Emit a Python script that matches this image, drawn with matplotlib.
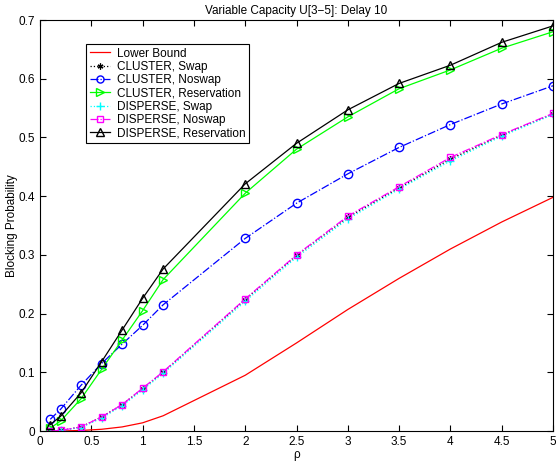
import matplotlib
matplotlib.use("Agg")
import matplotlib.pyplot as plt

plt.rcParams['font.family'] = ['Liberation Sans', 'DejaVu Sans']
plt.rcParams['font.size'] = 8

rho = [0.1, 0.2, 0.4, 0.6, 0.8, 1.0, 1.2, 2.0, 2.5, 3.0, 3.5, 4.0, 4.5, 5.0]

lower_bound = [0.0, 0.0, 0.001, 0.003, 0.007, 0.014, 0.026, 0.095, 0.150, 0.207, 0.260, 0.310, 0.356, 0.398]
cluster_swap = [0.0, 0.001, 0.007, 0.024, 0.045, 0.072, 0.100, 0.224, 0.299, 0.364, 0.414, 0.463, 0.504, 0.540]
cluster_noswap = [0.020, 0.037, 0.078, 0.115, 0.148, 0.180, 0.215, 0.328, 0.388, 0.438, 0.483, 0.522, 0.557, 0.588]
cluster_resv = [0.005, 0.017, 0.055, 0.105, 0.155, 0.205, 0.258, 0.405, 0.480, 0.535, 0.583, 0.615, 0.652, 0.680]
disperse_swap = [0.0, 0.001, 0.006, 0.022, 0.043, 0.070, 0.098, 0.221, 0.296, 0.361, 0.412, 0.460, 0.502, 0.539]
disperse_noswap = [0.0, 0.001, 0.007, 0.024, 0.045, 0.073, 0.101, 0.225, 0.300, 0.366, 0.416, 0.466, 0.505, 0.541]
disperse_resv = [0.011, 0.025, 0.065, 0.118, 0.172, 0.226, 0.276, 0.421, 0.490, 0.547, 0.592, 0.623, 0.662, 0.690]

fig = plt.figure(figsize=(5.56, 4.61), dpi=100)
ax = fig.add_axes([0.072, 0.065, 0.9226, 0.8916])

ax.plot(rho, lower_bound, '-', color='#ff0000', lw=0.9, label='Lower Bound')
ax.plot(rho, cluster_swap, ':', color='black', marker=(6, 2, 0), ms=5, mew=0.9, lw=0.9, label='CLUSTER, Swap')
ax.plot(rho, cluster_noswap, '-.', color='#0000ff', marker='o', ms=6, mfc='none', lw=0.9, label='CLUSTER, Noswap')
ax.plot(rho, cluster_resv, '-', color='#00ff00', marker='>', ms=6, mfc='none', lw=0.9, label='CLUSTER, Reservation')
ax.plot(rho, disperse_swap, ':', color='#00ffff', marker='+', ms=6, lw=0.9, label='DISPERSE, Swap')
ax.plot(rho, disperse_noswap, '-.', color='#ff00ff', marker='s', ms=5, mfc='none', lw=0.9, label='DISPERSE, Noswap')
ax.plot(rho, disperse_resv, '-', color='black', marker='^', ms=6, mfc='none', lw=0.9, label='DISPERSE, Reservation')

ax.set_xlim(0, 5)
ax.set_ylim(0, 0.7)
ax.set_xticks([0, 0.5, 1, 1.5, 2, 2.5, 3, 3.5, 4, 4.5, 5])
ax.set_xticklabels(['0', '0.5', '1', '1.5', '2', '2.5', '3', '3.5', '4', '4.5', '5'])
ax.set_yticks([0, 0.1, 0.2, 0.3, 0.4, 0.5, 0.6, 0.7])
ax.set_yticklabels(['0', '0.1', '0.2', '0.3', '0.4', '0.5', '0.6', '0.7'])
ax.tick_params(direction='in', top=True, right=True, length=4, width=0.8, labelsize=8.5)
for s in ax.spines.values():
    s.set_linewidth(0.8)

ax.set_xlabel('ρ', labelpad=1, fontsize=8.5)
ax.set_ylabel('Blocking Probability', labelpad=0.5, fontsize=8.5)
ax.set_title('Variable Capacity U[3\u22125]: Delay 10', fontsize=8.5, pad=4)

leg = ax.legend(loc='upper left', bbox_to_anchor=(0.0897, 0.9416), borderaxespad=0,
                fancybox=False, edgecolor='black', framealpha=1, borderpad=0.3,
                labelspacing=0.11, handlelength=1.7, handletextpad=0.6,
                fontsize=8.5, markerscale=0.85)
leg.get_frame().set_linewidth(0.8)

fig.savefig('out.png', dpi=100)
